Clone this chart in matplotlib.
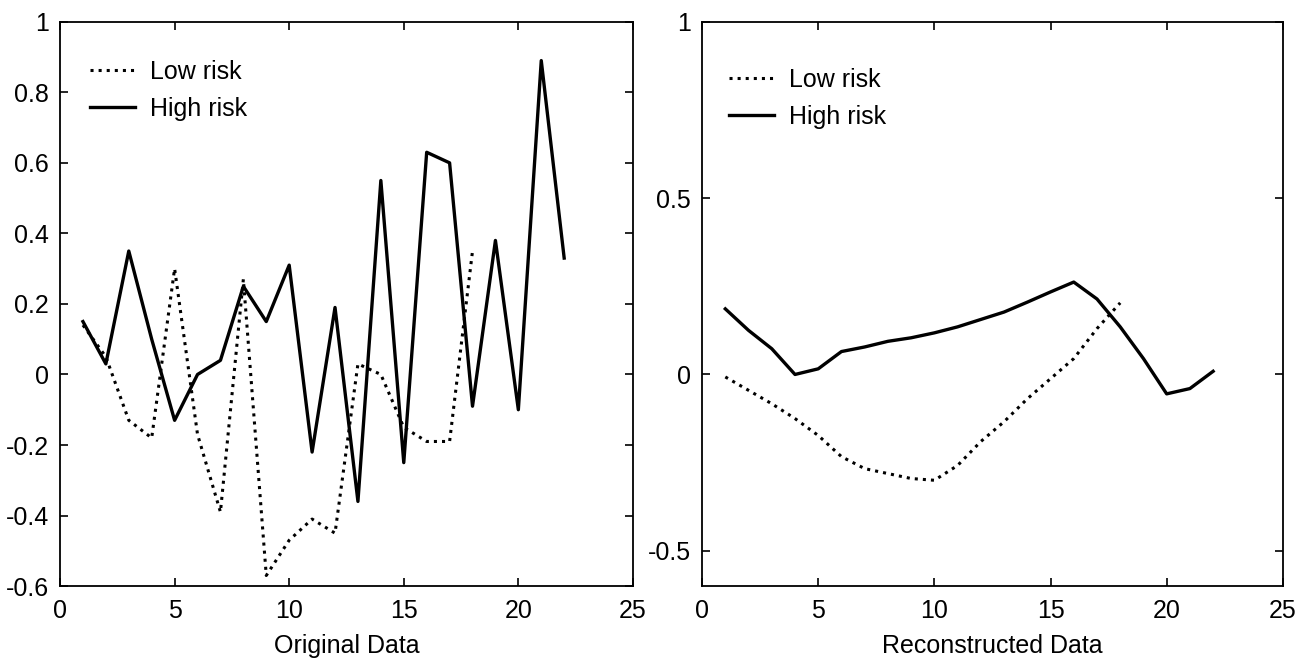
import matplotlib
matplotlib.use("Agg")
import matplotlib.pyplot as plt
from matplotlib.ticker import FormatStrFormatter

# values
x_high = list(range(1, 23))
x_low = list(range(1, 19))

orig_high = [0.15, 0.03, 0.35, 0.10, -0.13, 0.00, 0.04, 0.25, 0.15, 0.31, -0.22,
             0.19, -0.36, 0.55, -0.25, 0.63, 0.60, -0.09, 0.38, -0.10, 0.89, 0.33]
orig_low = [0.14, 0.05, -0.13, -0.18, 0.30, -0.17, -0.39, 0.27, -0.57, -0.47,
            -0.41, -0.45, 0.03, 0.00, -0.15, -0.19, -0.19, 0.35]

rec_high = [0.186, 0.125, 0.073, 0.0, 0.016, 0.065, 0.078, 0.094, 0.104, 0.118, 0.135,
            0.156, 0.177, 0.205, 0.234, 0.262, 0.214, 0.135, 0.045, -0.055, -0.04, 0.009]
rec_low = [-0.007, -0.045, -0.083, -0.125, -0.173, -0.233, -0.267, -0.281, -0.295,
           -0.30, -0.258, -0.19, -0.134, -0.069, -0.012, 0.045, 0.13, 0.203]

plt.rcParams['font.family'] = ['Liberation Sans', 'DejaVu Sans']
fs = 18

fig = plt.figure(figsize=(13.05, 6.6), dpi=100)
ax1 = fig.add_axes([0.046, 0.112, 0.439, 0.855])
ax2 = fig.add_axes([0.538, 0.112, 0.445, 0.855])

panels = [
    (ax1, orig_low, orig_high, "Original Data", [-0.6, -0.4, -0.2, 0, 0.2, 0.4, 0.6, 0.8, 1], (0.052, 0.932)),
    (ax2, rec_low, rec_high, "Reconstructed Data", [-0.5, 0, 0.5, 1], (0.046, 0.918)),
]

for ax, low, high, xlabel, yticks, anchor in panels:
    ax.plot(x_low, low, color="black", linestyle=":", linewidth=2.2, label="Low risk")
    ax.plot(x_high, high, color="black", linestyle="-", linewidth=2.4, label="High risk")
    ax.set_xlim(0, 25)
    ax.set_ylim(-0.6, 1)
    ax.set_xticks([0, 5, 10, 15, 20, 25])
    ax.set_yticks(yticks)
    ax.yaxis.set_major_formatter(FormatStrFormatter('%g'))
    ax.tick_params(direction="in", top=True, right=True, length=6, width=1.2,
                   labelsize=fs)
    ax.tick_params(axis="x", pad=9)
    ax.tick_params(axis="y", pad=8)
    for s in ax.spines.values():
        s.set_linewidth(1.3)
    ax.set_xlabel(xlabel, fontsize=fs, labelpad=8)
    ax.legend(loc="upper left", bbox_to_anchor=anchor, frameon=False, fontsize=fs,
              handlelength=1.8, handletextpad=0.6, labelspacing=0.5,
              borderpad=0, borderaxespad=0)

fig.savefig("out.png", dpi=100)
